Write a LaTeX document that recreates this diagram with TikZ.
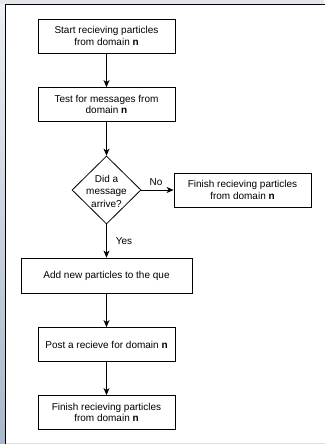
\documentclass[tikz,border=0pt]{standalone}
\usepackage{fontspec}
\setmainfont{Liberation Sans}
\usetikzlibrary{shapes.geometric,arrows.meta}
\definecolor{bgtop}{HTML}{EDF0F4}
\definecolor{bgbot}{HTML}{A8B7CB}
\definecolor{bgstrip}{HTML}{E3E7EC}
\begin{document}
\begin{tikzpicture}[x=1pt,y=-1pt,
  box/.style={draw, line width=0.8pt, minimum width=137pt, minimum height=34pt, inner sep=0pt, align=center, font=\fontsize{10}{11.5}\selectfont},
  conn/.style={draw, line width=0.8pt, -{Stealth[length=7pt,width=6pt,inset=2pt]}},
  lbl/.style={font=\fontsize{10}{11.5}\selectfont, inner sep=0pt}]
\useasboundingbox (0,0) rectangle (324,444);
% background
\fill[white] (0,0) rectangle (324,444);
\fill[top color=bgtop, bottom color=bgbot] (0,0) rectangle (5,444);
\fill[bgstrip] (0,0) rectangle (324,4);
\draw[line width=1.3pt] (5.6,444) -- (5.6,4.6) -- (330,4.6);
\draw[line width=1pt, black!12] (5.6,443) -- (330,443);
% nodes
\node[box] (b1) at (106.5,36) {Start recieving particles\\from domain \textbf{n}};
\node[box] (b2) at (106.5,104.5) {Test for messages from\\domain \textbf{n}};
\node[diamond, draw, line width=0.8pt, minimum width=69pt, minimum height=68pt, inner sep=0pt] (dec) at (106.5,190) {};
\node[align=center, inner sep=0pt, font=\fontsize{10}{12.5}\selectfont] (dectext) at (106.5,191) {Did a\\message\\arrive?};
\node[box] (no) at (242.5,190) {Finish recieving particles\\from domain \textbf{n}};
\node[box, minimum width=171pt, minimum height=35pt] (add) at (106.5,275.5) {Add new particles to the que};
\node[box] (post) at (106.5,344.5) {Post a recieve for domain \textbf{n}};
\node[box] (fin) at (106.5,412.5) {Finish recieving particles\\from domain \textbf{n}};
% connectors
\draw[conn] (b1.south) -- (b2.north);
\draw[conn] (b2.south) -- (dec.north);
\draw[conn] (dec.east) -- (no.west);
\draw[conn] (dec.south) -- (add.north);
\draw[conn] (add.south) -- (post.north);
\draw[conn] (post.south) -- (fin.north);
% labels
\node[lbl] (lno) at (156,182) {No};
\node[lbl] (lyes) at (124,241) {Yes};
\end{tikzpicture}
\end{document}
